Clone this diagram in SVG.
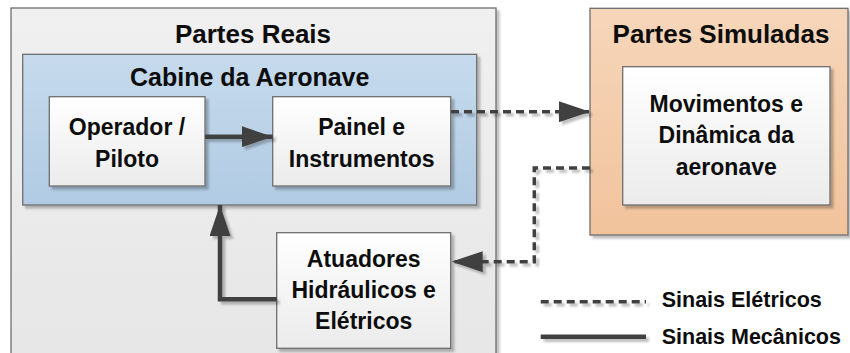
<svg xmlns="http://www.w3.org/2000/svg" width="850" height="353" viewBox="0 0 850 353">
<style>
text{font-family:"Liberation Sans",Arial,sans-serif;font-weight:bold;fill:#0d0d0d;text-anchor:middle}
.hdr{font-size:26px}
.sub{font-size:25px}
.nt{font-size:23px}
.lg{font-size:21.5px;text-anchor:start}
.box{stroke:#6e6e6e;stroke-width:1.3}
.sol{fill:none;stroke:#404040;stroke-width:4.5}
.dash{fill:none;stroke:#404040;stroke-width:3.5;stroke-dasharray:8 5}
</style>
<defs>
<linearGradient id="gGray" x1="0" y1="0" x2="0" y2="1"><stop offset="0" stop-color="#f0f0f0"/><stop offset="1" stop-color="#e6e6e6"/></linearGradient>
<linearGradient id="gBlue" x1="0" y1="0" x2="0" y2="1"><stop offset="0" stop-color="#c6daec"/><stop offset="1" stop-color="#b0cbe3"/></linearGradient>
<linearGradient id="gPeach" x1="0" y1="0" x2="0" y2="1"><stop offset="0" stop-color="#f6d6ba"/><stop offset="1" stop-color="#f1c39c"/></linearGradient>
<linearGradient id="gWhite" x1="0" y1="0" x2="0" y2="1"><stop offset="0" stop-color="#ffffff"/><stop offset="1" stop-color="#ebebeb"/></linearGradient>
<filter id="sh" x="-10%" y="-10%" width="130%" height="130%"><feDropShadow dx="3" dy="3" stdDeviation="1.2" flood-color="#000" flood-opacity="0.25"/></filter>
<filter id="shl" filterUnits="userSpaceOnUse" x="0" y="0" width="850" height="353"><feDropShadow dx="3" dy="3" stdDeviation="1.2" flood-color="#000" flood-opacity="0.25"/></filter>
<marker id="ah" viewBox="0 0 31 21" refX="31" refY="10.5" markerWidth="31" markerHeight="21" markerUnits="userSpaceOnUse" orient="auto"><path d="M0,0 L31,10.5 L0,21 Z" fill="#404040"/></marker>
</defs>

<g id="partes-reais">
<rect class="box" x="11" y="8" width="485" height="360" fill="url(#gGray)" filter="url(#sh)"/>
<text class="hdr" x="253" y="43">Partes Reais</text>
</g>

<g id="cabine">
<rect class="box" x="22.7" y="54.3" width="454" height="150.7" fill="url(#gBlue)" filter="url(#sh)"/>
<text class="sub" x="249.7" y="86">Cabine da Aeronave</text>
</g>

<g id="operador">
<rect class="box" x="49.3" y="96.7" width="155.7" height="89.3" fill="url(#gWhite)" filter="url(#sh)"/>
<text class="nt" x="127" y="135">Operador /</text>
<text class="nt" x="127" y="166.7">Piloto</text>
</g>

<g id="painel">
<rect class="box" x="272.7" y="96.7" width="178" height="89.3" fill="url(#gWhite)" filter="url(#sh)"/>
<text class="nt" x="361.7" y="135">Painel e</text>
<text class="nt" x="361.7" y="166.7">Instrumentos</text>
</g>

<g id="atuadores">
<rect class="box" x="276.7" y="232.7" width="174" height="115.6" fill="url(#gWhite)" filter="url(#sh)"/>
<text class="nt" x="363.7" y="267.3">Atuadores</text>
<text class="nt" x="363.7" y="298.3">Hidráulicos e</text>
<text class="nt" x="363.7" y="329.3">Elétricos</text>
</g>

<g id="partes-simuladas">
<rect class="box" x="590" y="8.3" width="258" height="226.7" fill="url(#gPeach)" filter="url(#sh)"/>
<text class="hdr" x="721" y="43">Partes Simuladas</text>
</g>

<g id="movimentos">
<rect class="box" x="622.7" y="66.7" width="207.3" height="138.3" fill="url(#gWhite)" filter="url(#sh)"/>
<text class="nt" x="726.3" y="111.7">Movimentos e</text>
<text class="nt" x="726.3" y="143.3">Dinâmica da</text>
<text class="nt" x="726.3" y="175">aeronave</text>
</g>

<g id="connectors" filter="url(#shl)">
<line class="sol" x1="205" y1="136.7" x2="272.7" y2="136.7" marker-end="url(#ah)"/>
<line class="dash" x1="451" y1="111.7" x2="590" y2="111.7" marker-end="url(#ah)"/>
<polyline class="dash" points="590,168 534.3,168 534.3,261.7 451.7,261.7" marker-end="url(#ah)"/>
<polyline class="sol" points="276.7,299.3 220,299.3 220,205" marker-end="url(#ah)"/>
</g>

<g id="legend">
<line class="dash" x1="540.7" y1="301.7" x2="646" y2="301.7" filter="url(#shl)"/>
<text class="lg" x="661.7" y="307.3">Sinais Elétricos</text>
<line class="sol" x1="540.7" y1="336.7" x2="646" y2="336.7" filter="url(#shl)"/>
<text class="lg" x="661.7" y="344">Sinais Mecânicos</text>
</g>
</svg>
